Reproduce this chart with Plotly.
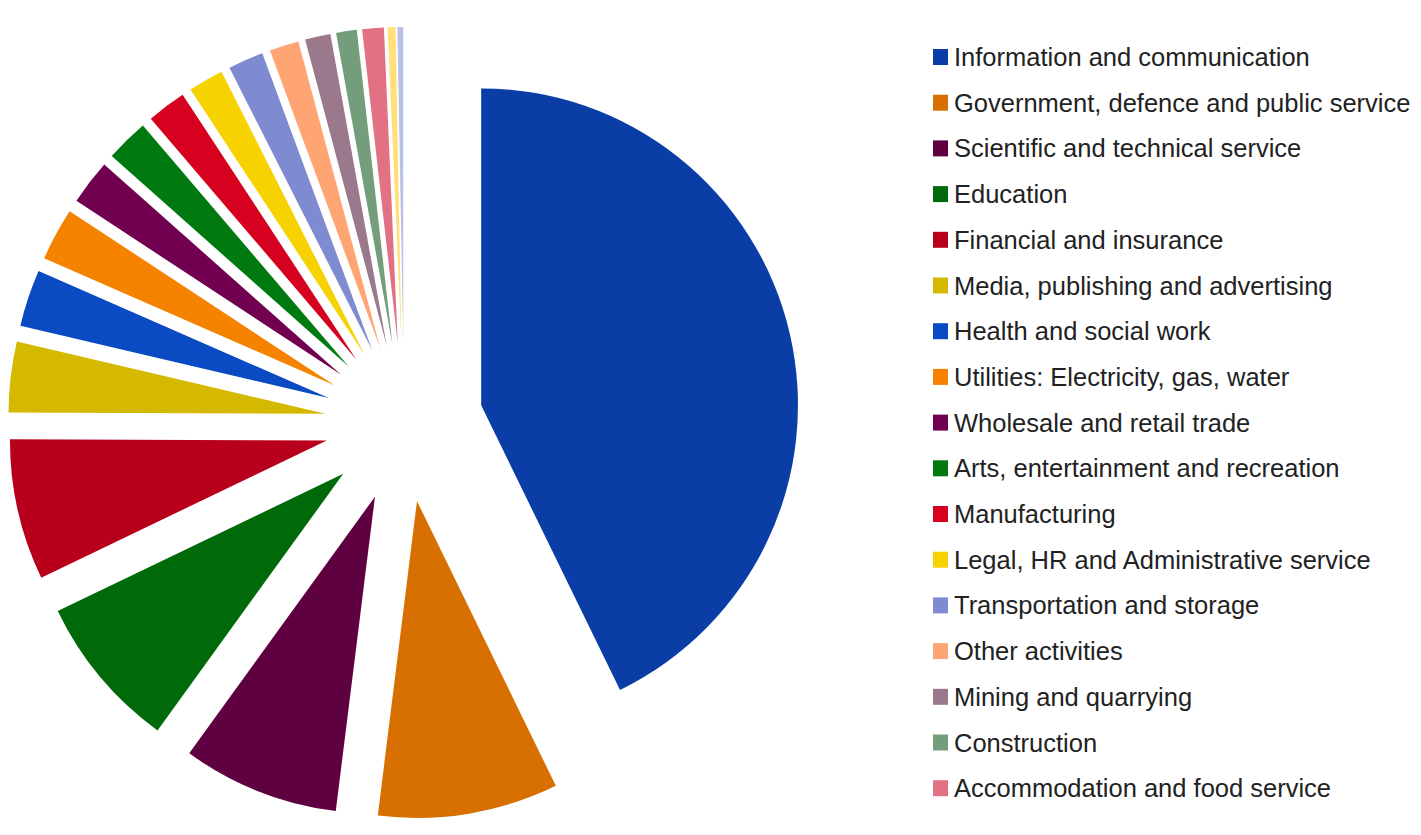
import plotly.graph_objects as go

# ---- data ----
labels = [
    "Information and communication",
    "Government, defence and public service",
    "Scientific and technical service",
    "Education",
    "Financial and insurance",
    "Media, publishing and advertising",
    "Health and social work",
    "Utilities: Electricity, gas, water",
    "Wholesale and retail trade",
    "Arts, entertainment and recreation",
    "Manufacturing",
    "Legal, HR and Administrative service",
    "Transportation and storage",
    "Other activities",
    "Mining and quarrying",
    "Construction",
    "Accommodation and food service",
    "Real estate",
    "Agriculture, forestry and fishing",
]
values = [42.8, 9.2, 8.0, 7.9, 7.2, 3.6, 2.9, 2.7, 2.3, 2.2, 2.0, 1.8, 1.8, 1.5, 1.3, 1.05, 1.1, 0.4, 0.3]
colors = [
    "#0a3ea6", "#d77000", "#5f0040", "#006a0b", "#b8001c", "#d5b800",
    "#0a4ac2", "#f58300", "#720050", "#007a10", "#d6001f", "#f5d200",
    "#7f8bd1", "#ffa473", "#9b798d", "#739d7b", "#e27283", "#ffe07a", "#bcc1e8",
]
legend_count = 17  # entries visible in the legend

W, H = 1421, 835
OFF = 8  # page offset of the plot div

fig = go.Figure(go.Pie(
    labels=labels,
    values=values,
    sort=False,
    direction="clockwise",
    rotation=0,
    pull=0.25,
    marker=dict(colors=colors, line=dict(width=0)),
    textinfo="none",
    hoverinfo="label+percent",
    domain=dict(x=[0.0, 792 / W], y=[1 - 817 / H, 1 - 13 / H]),
    showlegend=False,
))

# custom legend (only the first entries, as in the reference)
row0, step = 57 - OFF, 45.7
shapes, annotations = [], []
for i in range(legend_count):
    yc = row0 + i * step
    shapes.append(dict(
        type="rect", xref="paper", yref="paper",
        x0=(933 - OFF) / W, x1=(948 - OFF) / W,
        y0=1 - (yc + 8) / H, y1=1 - (yc - 8) / H,
        fillcolor=colors[i], line=dict(width=0),
    ))
    annotations.append(dict(
        xref="paper", yref="paper", x=(952 - OFF) / W, y=1 - yc / H,
        xanchor="left", yanchor="middle", showarrow=False,
        text=labels[i],
        font=dict(family="Liberation Sans, Arial, sans-serif", size=25.5, color="#222222"),
    ))

fig.update_layout(
    width=W, height=H,
    margin=dict(l=0, r=0, t=0, b=0),
    paper_bgcolor="white",
    plot_bgcolor="white",
    shapes=shapes,
    annotations=annotations,
)

fig.write_html("out.html")
